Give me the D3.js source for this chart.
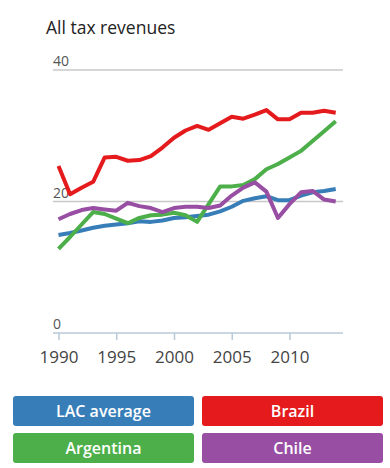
<!DOCTYPE html>
<html>
<head>
<meta charset="utf-8">
<script src="https://cdn.jsdelivr.net/npm/d3@7"></script>
<style>
  body { margin: 0; background: #fff; font-family: "Open Sans", "Noto Sans", sans-serif; }
  svg { display: block; }
</style>
</head>
<body>
<script>
// years on the x axis
var years = d3.range(1990, 2015);

// tax revenues, % of GDP
var lacAverage = [14.9, 15.2, 15.6, 16.0, 16.3, 16.5, 16.7, 17.0, 16.9, 17.1, 17.5, 17.6, 17.8,
                  18.0, 18.5, 19.2, 20.1, 20.5, 20.8, 20.2, 20.2, 20.9, 21.4, 21.6, 21.9];
var brazil = [25.4, 21.1, 22.1, 23.0, 26.7, 26.8, 26.2, 26.3, 26.9, 28.2, 29.7, 30.8, 31.5,
              30.9, 31.9, 32.9, 32.6, 33.2, 33.9, 32.5, 32.5, 33.5, 33.5, 33.8, 33.5];
var argentina = [12.8, 14.6, 16.5, 18.4, 18.1, 17.4, 16.7, 17.5, 17.9, 18.0, 18.3, 17.9, 16.9,
                 19.6, 22.3, 22.3, 22.5, 23.4, 24.9, 25.7, 26.7, 27.7, 29.2, 30.7, 32.2];
var chile = [17.3, 18.1, 18.7, 19.0, 18.8, 18.6, 19.8, 19.3, 19.0, 18.4, 19.0, 19.2, 19.2,
             19.0, 19.4, 20.9, 22.1, 22.9, 21.5, 17.5, 19.6, 21.4, 21.6, 20.3, 20.0];

var seriesNames = ["LAC average", "Brazil", "Argentina", "Chile"];
var seriesColors = ["#377eb8", "#e41a1c", "#4daf4a", "#984ea3"];
var yTicks = [0, 20, 40];
var xTicks = [1990, 1995, 2000, 2005, 2010];

var width = 390, height = 468;

var svg = d3.select("body").append("svg")
    .attr("width", width)
    .attr("height", height);

//title
svg.append("text")
    .attr("x", 46)
    .attr("y", 34)
    .attr("font-size", "17.5px")
    .attr("fill", "#222")
    .text("All tax revenues");

//scales
var x = d3.scaleLinear().domain([1990, 2010]).range([58.5, 289.5]);
var y = d3.scaleLinear().domain([0, 40]).range([333, 70]);

//gridlines for 20 and 40
svg.append("g")
    .selectAll("line")
    .data(yTicks.filter(d => d > 0))
    .enter()
    .append("line")
    .attr("x1", 53)
    .attr("x2", 343)
    .attr("y1", d => y(d))
    .attr("y2", d => y(d))
    .attr("stroke", "#c8c8c8")
    .attr("stroke-width", 1.5);

//y labels sit above the gridline, left aligned
svg.append("g")
    .selectAll("text")
    .data(yTicks)
    .enter()
    .append("text")
    .attr("x", 53)
    .attr("y", d => y(d) - 4)
    .attr("font-size", "14px")
    .attr("fill", "#555")
    .text(d => d);

//x axis
var xAxis = svg.append("g")
    .attr("transform", "translate(0," + y(0) + ")")
    .call(d3.axisBottom(x).tickValues(xTicks).tickFormat(d3.format("d")).tickSize(7).tickPadding(10.5));

xAxis.select(".domain")
    .attr("d", "M53,0H343")
    .attr("stroke", "#b9c9d9")
    .attr("stroke-width", 1.5);
xAxis.selectAll(".tick line")
    .attr("stroke", "#b9c9d9")
    .attr("stroke-width", 1.5);
xAxis.selectAll(".tick text")
    .attr("font-family", "'Open Sans', sans-serif")
    .attr("font-size", "17px")
    .attr("fill", "#444");

//lines
var allSeries = [lacAverage, brazil, argentina, chile];
var line = d3.line()
    .x((d, i) => x(years[i]))
    .y(d => y(d));

//draw in the same stacking as the picture: blue, red, green, purple on top
svg.append("g")
    .selectAll("path")
    .data(allSeries)
    .enter()
    .append("path")
    .attr("d", line)
    .attr("fill", "none")
    .attr("stroke", (d, i) => seriesColors[i])
    .attr("stroke-width", 4)
    .attr("stroke-linejoin", "round");

//legend buttons
var btnW = 181, btnH = 30;
var legend = svg.append("g")
    .selectAll("g")
    .data(seriesNames)
    .enter()
    .append("g")
    .attr("transform", (d, i) => "translate(" + (i % 2 === 0 ? 13 : 202) + "," + (i < 2 ? 396 : 433) + ")");

legend.append("rect")
    .attr("width", btnW)
    .attr("height", btnH)
    .attr("rx", 3)
    .attr("fill", (d, i) => seriesColors[i]);

legend.append("text")
    .attr("x", btnW / 2)
    .attr("y", btnH / 2 + 5.5)
    .attr("text-anchor", "middle")
    .attr("font-size", "16px")
    .attr("font-weight", "600")
    .attr("fill", "#fff")
    .text(d => d);
</script>
</body>
</html>
